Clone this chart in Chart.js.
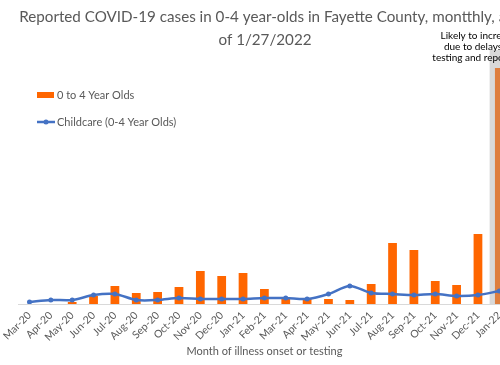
<!DOCTYPE html>
<html>
<head>
<meta charset="utf-8">
<script src="https://cdn.jsdelivr.net/npm/chart.js@4.4.1/dist/chart.umd.min.js"></script>
<style>
    html, body { margin: 0; padding: 0; background: #fff; overflow: hidden; }
    #wrap { width: 530px; height: 365px; }
</style>
</head>
<body>
<div id="wrap"><canvas id="chart" width="530" height="365"></canvas></div>
<script>
// Chart data
const months = ['Mar-20', 'Apr-20', 'May-20', 'Jun-20', 'Jul-20', 'Aug-20', 'Sep-20', 'Oct-20',
    'Nov-20', 'Dec-20', 'Jan-21', 'Feb-21', 'Mar-21', 'Apr-21', 'May-21', 'Jun-21', 'Jul-21',
    'Aug-21', 'Sep-21', 'Oct-21', 'Nov-21', 'Dec-21', 'Jan-22'];
const cases0to4 = [0, 0, 2, 8, 18, 11, 12, 17, 33, 28, 31, 15, 7, 5, 5, 4, 20, 61, 54, 23, 19, 70, 236];
const childcare = [2, 4, 4, 9, 10, 4, 4, 6, 5, 5, 5, 6, 6, 5, 10, 18, 11, 10, 9, 10, 8, 9, 13];
const incompleteMonth = 'Jan-22';
const bandTop = 254;
const yMax = 257;

const titleLines = ['Reported COVID-19 cases in 0-4 year-olds in Fayette County, montthly, as', 'of 1/27/2022'];
const noteLines = ['Likely to increase', 'due to delays in', 'testing and reporting'];

const colors = {
    bar: '#FF6600',
    barLate: '#DE7E3E',
    band: '#D9D9D9',
    line: '#4472C4',
    text: '#595959',
    axis: '#D9D9D9'
};

/**
 * Title, legend, shaded month and its note
 */
const decorations = {
    id: 'decorations',
    beforeDatasetsDraw(chart) {
        const { ctx, scales: { x, y } } = chart;
        const i = months.indexOf(incompleteMonth);
        const half = (x.getPixelForValue(1) - x.getPixelForValue(0)) / 2;
        const cx = x.getPixelForValue(i);
        ctx.save();
        ctx.fillStyle = colors.band;
        ctx.fillRect(cx - half + 1, y.getPixelForValue(bandTop), half * 2, y.getPixelForValue(0) - y.getPixelForValue(bandTop));
        ctx.restore();
    },
    afterDraw(chart) {
        const { ctx, scales: { x } } = chart;
        ctx.save();
        // title
        ctx.fillStyle = colors.text;
        ctx.font = '15.2px Lato';
        ctx.textAlign = 'center';
        ctx.textBaseline = 'middle';
        ctx.fillText(titleLines[0], 266, 17);
        ctx.fillText(titleLines[1], 265, 40);

        // legend
        ctx.textAlign = 'left';
        ctx.font = '11px Lato';
        ctx.fillStyle = colors.bar;
        ctx.fillRect(37, 92, 17, 6);
        ctx.fillStyle = colors.text;
        ctx.fillText(chart.data.datasets[1].label, 57, 95);
        ctx.strokeStyle = colors.line;
        ctx.lineWidth = 2.5;
        ctx.beginPath();
        ctx.moveTo(37, 122);
        ctx.lineTo(55, 122);
        ctx.stroke();
        ctx.fillStyle = colors.line;
        ctx.beginPath();
        ctx.arc(46, 122, 2.5, 0, Math.PI * 2);
        ctx.fill();
        ctx.fillStyle = colors.text;
        ctx.fillText(chart.data.datasets[0].label, 57, 122);

        // note above the last month
        ctx.fillStyle = '#000';
        ctx.font = '10px Lato';
        ctx.textAlign = 'center';
        const nx = x.getPixelForValue(months.indexOf(incompleteMonth)) - 21;
        noteLines.forEach((t, k) => ctx.fillText(t, nx, 36 + k * 11));
        ctx.restore();
    }
};

const ctx = document.getElementById('chart').getContext('2d');
new Chart(ctx, {
    type: 'bar',
    data: {
        labels: months,
        datasets: [{
            type: 'line',
            label: 'Childcare (0-4 Year Olds)',
            data: childcare,
            borderColor: colors.line,
            backgroundColor: colors.line,
            borderWidth: 2.5,
            pointRadius: 2.5,
            pointBorderWidth: 0,
            tension: 0.3,
            order: 0
        }, {
            label: '0 to 4 Year Olds',
            data: cases0to4,
            backgroundColor: months.map(m => m === incompleteMonth ? colors.barLate : colors.bar),
            barPercentage: 0.41,
            categoryPercentage: 1,
            order: 1
        }]
    },
    options: {
        responsive: false,
        animation: false,
        layout: {
            padding: { left: 4, right: 20, top: 47, bottom: 0 }
        },
        scales: {
            x: {
                grid: { display: false, drawTicks: false },
                border: { color: colors.axis, width: 1 },
                ticks: {
                    color: colors.text,
                    font: { family: 'Lato', size: 10.5 },
                    minRotation: 45,
                    maxRotation: 45,
                    autoSkip: false,
                    padding: 5
                },
                title: {
                    display: true,
                    text: 'Month of illness onset or testing',
                    color: colors.text,
                    font: { family: 'Lato', size: 11 },
                    padding: { top: 0, bottom: 7 }
                },
                afterFit(scale) { scale.height = 61; }
            },
            y: {
                display: false,
                min: 0,
                max: yMax
            }
        },
        plugins: {
            legend: { display: false },
            tooltip: { enabled: false }
        }
    },
    plugins: [decorations]
});
</script>
</body>
</html>
